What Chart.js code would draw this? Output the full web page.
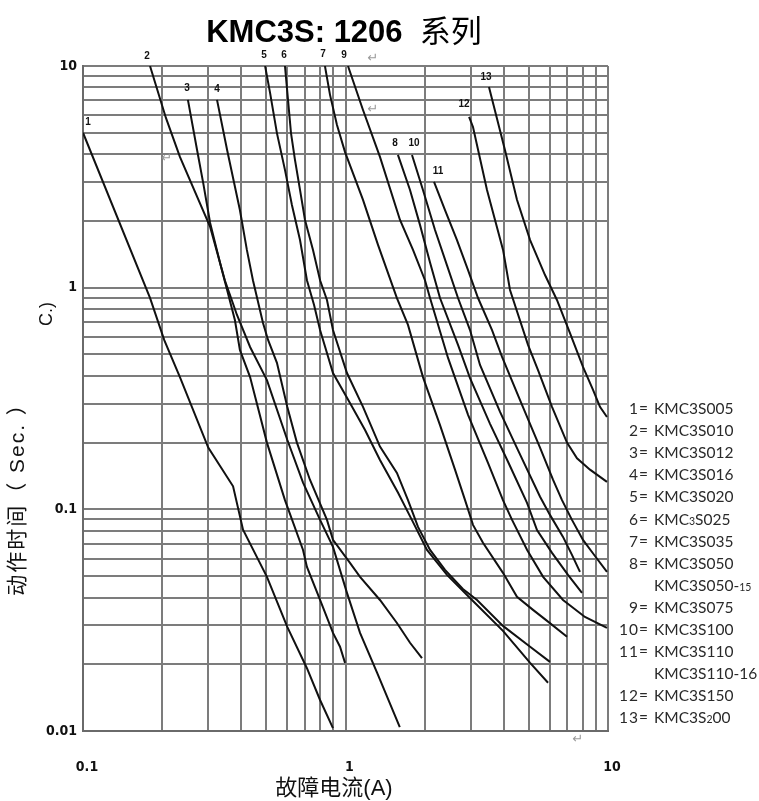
<!DOCTYPE html>
<html><head><meta charset="utf-8">
<script src="https://cdn.jsdelivr.net/npm/chart.js@4.4.1/dist/chart.umd.min.js"></script>
<style>
html,body{margin:0;padding:0;background:#fff;}
#wrap{position:relative;width:759px;height:801px;overflow:hidden;background:#fff;}
#c{position:absolute;left:0;top:0;}
.t{position:absolute;white-space:nowrap;line-height:1;transform:translate(-50%,-50%);}
.lab{font-family:'Liberation Sans',Arial,sans-serif;font-weight:bold;font-size:10px;color:#111;}
.ret{font-family:'DejaVu Sans',sans-serif;font-size:13px;color:#9a9a9a;}
.leg{position:absolute;left:598px;height:20px;font-family:Lato,'Open Sans',sans-serif;font-size:15.5px;color:#2a2a2a;white-space:nowrap;line-height:20px;}
.leg .n{display:inline-block;width:51px;text-align:right;letter-spacing:1px;}
.leg .m{position:absolute;left:56px;top:0;}
.leg small{font-size:10.5px;}
</style></head><body>
<div id="wrap">
<canvas id="c" width="759" height="801"></canvas>

<div class="t" style="left:344px;top:30px;font-family:'Liberation Sans',Arial,sans-serif;font-weight:bold;font-size:31px;color:#000;">KMC3S: 1206&nbsp; <span style="font-family:'Noto Sans CJK SC',sans-serif;font-weight:normal;">系列</span></div>

<div class="t" style="left:334px;top:786px;font-size:22px;color:#111;"><span style="font-family:'Noto Sans CJK SC',sans-serif;">故障电流</span><span style="font-family:'Liberation Sans',Arial,sans-serif;">(A)</span></div>

<div class="t" style="left:16px;top:494px;transform:translate(-50%,-50%) rotate(-90deg);font-size:21px;color:#111;letter-spacing:2px;"><span style="font-family:'Noto Sans CJK SC',sans-serif;">动作时间（</span><span style="font-family:'Liberation Sans',Arial,sans-serif;"> Sec.&nbsp;</span><span style="font-family:'Noto Sans CJK SC',sans-serif;">）</span></div>
<div class="t" style="left:46px;top:314px;transform:translate(-50%,-50%) rotate(-90deg);font-size:18px;color:#111;font-family:'Liberation Sans',Arial,sans-serif;">C.)</div>

<div id="annot"></div>
<div id="legend"></div>
</div>
<script>
// ---- curve labels drawn above the curves ----
const curveLabels = ['1','2','3','4','5','6','7','8','9','10','11','12','13'];
// ---- legend text ----
const legendNums = ['1=','2=','3=','4=','5=','6=','7=','8=','','9=','10=','11=','','12=','13='];
const legendNames = ['KMC3S005','KMC3S010','KMC3S012','KMC3S016','KMC3S020','KMC<small>3</small>S025','KMC3S035','KMC3S050','KMC3S050-<small>15</small>','KMC3S075','KMC3S100','KMC3S110','KMC3S110-16','KMC3S150','KMC3S<small>2</small>00'];

// ---- axis ticks ----
const xGridValues = [0.1,0.2,0.3,0.4,0.5,0.6,0.7,0.8,0.9,1,2,3,4,5,6,7,8,9,10];
const yGridValues = [0.01,0.02,0.03,0.04,0.05,0.06,0.07,0.08,0.09,0.1,0.2,0.3,0.4,0.5,0.6,0.7,0.8,0.9,1,2,3,4,5,6,7,8,9,10];
const xTickValues = [0.1, 1, 10];
const xTickLabels = ['0.1', '1', '10'];
const yTickValues = [0.01, 0.1, 1, 10];
const yTickLabels = ['0.01', '0.1', '1', '10'];

// ---- series: fault current (A) and operating time (s) ----
const c1_current = [0.1,0.18,0.204,0.234,0.3,0.373,0.407,0.502,0.6,0.713,0.8,0.896];
const c1_time    = [5.0,0.9,0.58,0.395,0.19,0.127,0.081,0.0496,0.0295,0.0192,0.0138,0.0103];
const c2_current = [0.18,0.207,0.234,0.305,0.347,0.386,0.433,0.502,0.6,0.689,0.8,0.896,1.013,1.136,1.32,1.61];
const c2_time    = [10,5.83,3.89,1.88,1.08,0.753,0.54,0.383,0.206,0.132,0.0896,0.0677,0.042,0.0277,0.0183,0.0104];
const c3_current = [0.251,0.272,0.287,0.305,0.333,0.354,0.379,0.396,0.433,0.502,0.588,0.689,0.713,0.8,0.896,0.953,0.996];
const c3_time    = [7.03,4.18,2.97,1.96,1.29,0.976,0.715,0.524,0.395,0.2,0.11,0.0656,0.055,0.039,0.0277,0.024,0.0203];
const c4_current = [0.324,0.354,0.396,0.421,0.444,0.485,0.507,0.548,0.6,0.653,0.732,0.85,0.896,1.04,1.136,1.353,1.57,1.761,1.956];
const c4_time    = [7.03,4.18,2.24,1.48,1.08,0.693,0.581,0.458,0.29,0.2,0.136,0.0896,0.0728,0.0573,0.0496,0.039,0.0307,0.025,0.0213];
const c5_current = [0.494,0.516,0.548,0.588,0.625,0.671,0.713,0.759,0.8,0.896,1.04,1.187,1.353,1.584,1.79,2.044,2.436,2.98,3.98,5.05,5.91];
const c5_time    = [10,7.56,4.98,3.4,2.36,1.64,1.08,0.835,0.644,0.412,0.302,0.228,0.167,0.119,0.0896,0.0656,0.0506,0.0398,0.0283,0.0203,0.0165];
const c6_current = [0.588,0.604,0.62,0.642,0.671,0.701,0.752,0.8,0.85,0.896,1.013,1.166,1.353,1.57,1.73,1.889,2.1,2.394,2.8,3.17,3.98,5.05,6.01];
const c6_time    = [10,7.03,4.98,3.77,2.76,2.02,1.48,1.08,0.88,0.644,0.412,0.29,0.192,0.146,0.11,0.0833,0.0656,0.0533,0.0437,0.039,0.0298,0.024,0.0205];
const c7_current = [0.835,0.873,0.928,0.996,1.166,1.33,1.57,1.73,1.973,2.291,2.613,2.854,3.06,3.34,3.98,4.5,5.18,5.86,6.98];
const c7_time    = [10,7.41,5.42,4.09,2.49,1.56,0.898,0.679,0.395,0.24,0.151,0.11,0.0851,0.0706,0.0517,0.0403,0.0352,0.0314,0.0266];
const c8_current = [1.584,1.761,1.922,2.099,2.291,2.683,2.981,3.553,4.16,4.915,5.365,6.12,7.04,7.96];
const c8_time    = [3.97,2.76,1.92,1.30,0.898,0.552,0.391,0.243,0.164,0.107,0.0807,0.0636,0.0506,0.042];
const c9_current = [1.022,1.166,1.353,1.613,1.808,2.008,2.099,2.458,2.93,3.49,3.98,4.31,4.92,5.66,6.74,8.17,9.91];
const c9_time    = [10,6.33,3.89,2.02,1.48,1.08,0.898,0.482,0.267,0.162,0.11,0.0896,0.0656,0.0496,0.039,0.0327,0.0292];
const c10_current = [1.792,1.973,2.193,2.436,2.683,2.981,3.254,3.879,4.54,5.51,6.01,6.74,7.29,7.82];
const c10_time    = [3.97,2.76,1.82,1.26,0.898,0.644,0.448,0.275,0.185,0.114,0.0944,0.0751,0.0623,0.0522];
const c11_current = [2.174,2.394,2.659,2.93,3.198,3.616,3.948,4.704,5.508,6.172,6.68,7.29,8.03,8.92,9.91];
const c11_time    = [3.0,2.24,1.64,1.2,0.898,0.644,0.487,0.296,0.19,0.136,0.11,0.0896,0.0728,0.0616,0.0522];
const c12_current = [2.956,3.06,3.46,3.983,4.234,4.958,5.413,6.119,6.978,7.62,8.54,9.91];
const c12_time    = [5.89,5.31,2.76,1.48,0.976,0.552,0.425,0.29,0.2,0.17,0.151,0.133];
const c13_current = [3.52,4.05,4.5,5.05,5.755,6.39,7.165,8.03,8.77,9.32,9.91];
const c13_time    = [8.04,4.18,2.49,1.64,1.14,0.88,0.624,0.439,0.346,0.29,0.261];

const seriesCurrent = [c1_current,c2_current,c3_current,c4_current,c5_current,c6_current,c7_current,c8_current,c9_current,c10_current,c11_current,c12_current,c13_current];
const seriesTime = [c1_time,c2_time,c3_time,c4_time,c5_time,c6_time,c7_time,c8_time,c9_time,c10_time,c11_time,c12_time,c13_time];

const datasets = seriesCurrent.map((cur, k) => ({
  label: 'curve ' + curveLabels[k],
  data: cur.map((x, i) => ({x: x, y: seriesTime[k][i]})),
  showLine: true, borderColor: '#111', backgroundColor: '#111',
  borderWidth: 2, pointRadius: 0, tension: 0, fill: false
}));

function labelFor(values, labels, v) {
  for (let i = 0; i < values.length; i++) if (Math.abs(v - values[i]) / values[i] < 1e-6) return labels[i];
  return '';
}
const tickFont = {family: "'Liberation Sans Narrow','DejaVu Sans Condensed','Liberation Sans',Arial,sans-serif", size: 14, weight: 'bold'};

new Chart(document.getElementById('c'), {
  type: 'scatter',
  data: {datasets: datasets},
  options: {
    responsive: false, animation: false, devicePixelRatio: 1,
    layout: {padding: {left: 0, right: 151, top: 66, bottom: 0}},
    plugins: {legend: {display: false}, tooltip: {enabled: false}, title: {display: false}},
    scales: {
      x: {
        type: 'logarithmic', min: 0.1, max: 10,
        afterBuildTicks: s => { s.ticks = xGridValues.map(v => ({value: v})); },
        afterFit: s => { s.height = 70; },
        ticks: {autoSkip: false, maxRotation: 0, padding: 28, labelOffset: 4, color: '#111', font: tickFont,
          callback: v => labelFor(xTickValues, xTickLabels, v)},
        grid: {color: '#7c7c7c', lineWidth: 2, drawTicks: false},
        border: {display: true, color: '#6a6a6a', width: 2}
      },
      y: {
        type: 'logarithmic', min: 0.01, max: 10,
        afterBuildTicks: s => { s.ticks = yGridValues.map(v => ({value: v})); },
        afterFit: s => { s.width = 83; },
        ticks: {autoSkip: false, padding: 6, color: '#111', font: tickFont,
          callback: v => labelFor(yTickValues, yTickLabels, v)},
        grid: {color: '#7c7c7c', lineWidth: 2, drawTicks: false},
        border: {display: true, color: '#6a6a6a', width: 2}
      }
    }
  }
});

// curve number labels and stray return marks (positions in px)
const annot = document.getElementById('annot');
const labelPos = [[88,122],[147,56],[187,88],[217,89],[264,55],[284,55],[323,54],[395,143],[344,55],[414,143],[438,171],[464,104],[486,77]];
labelPos.forEach((p, k) => {
  const d = document.createElement('div'); d.className = 't lab';
  d.style.left = p[0] + 'px'; d.style.top = p[1] + 'px'; d.textContent = curveLabels[k];
  annot.appendChild(d);
});
[[373,57],[373,108],[167,157],[578,738]].forEach(p => {
  const d = document.createElement('div'); d.className = 't ret';
  d.style.left = p[0] + 'px'; d.style.top = p[1] + 'px'; d.textContent = '↵';
  annot.appendChild(d);
});
// legend block
const leg = document.getElementById('legend');
legendNames.forEach((name, i) => {
  const d = document.createElement('div'); d.className = 'leg';
  d.style.top = (398 + 22.1 * i) + 'px';
  d.innerHTML = '<span class="n">' + legendNums[i] + '</span><span class="m">' + name + '</span>';
  leg.appendChild(d);
});
</script>
</body></html>
